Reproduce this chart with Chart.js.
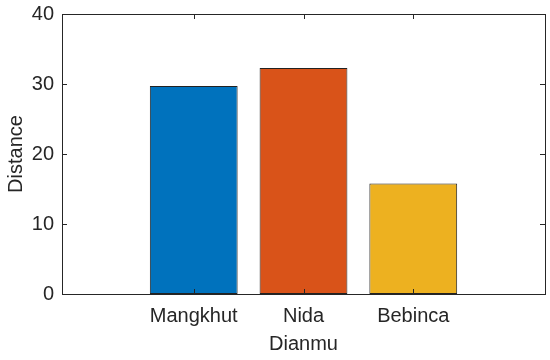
<!DOCTYPE html>
<html>
<head>
<meta charset="utf-8">
<script src="https://cdn.jsdelivr.net/npm/chart.js@4/dist/chart.umd.min.js"></script>
<style>
  html, body { margin: 0; padding: 0; background: #fff; }
  #wrap { width: 550px; height: 360px; }
</style>
</head>
<body>
<div id="wrap"><canvas id="chart" width="550" height="360"></canvas></div>
<script>
// Values
const categories = ['Mangkhut', 'Nida', 'Bebinca'];
const positions = [1, 2, 3];
const distances = [29.7, 32.3, 15.8];
const barColors = ['#0072BD', '#D95319', '#EDB120'];
const yTicks = [0, 10, 20, 30, 40];

const AXIS_COLOR = '#262626';
const FONT = { family: '"Liberation Sans", Arial, Helvetica, sans-serif', size: 20 };

// MATLAB-style box with inward ticks on all four sides
const boxPlugin = {
    id: 'matlabBox',
    afterDraw(chart) {
        const { ctx, chartArea: a, scales } = chart;
        const len = 5;
        ctx.save();
        ctx.strokeStyle = AXIS_COLOR;
        ctx.lineWidth = 1;
        ctx.beginPath();
        yTicks.forEach(v => {
            const y = Math.round(scales.y.getPixelForValue(v)) + 0.5;
            ctx.moveTo(a.left, y); ctx.lineTo(a.left + len, y);
            ctx.moveTo(a.right, y); ctx.lineTo(a.right - len, y);
        });
        positions.forEach(v => {
            const x = Math.round(scales.x.getPixelForValue(v)) + 0.5;
            ctx.moveTo(x, a.top); ctx.lineTo(x, a.top + len);
            ctx.moveTo(x, a.bottom); ctx.lineTo(x, a.bottom - len);
        });
        ctx.stroke();
        ctx.strokeRect(Math.round(a.left) + 0.5, Math.round(a.top) + 0.5,
            Math.round(a.right - a.left), Math.round(a.bottom - a.top));
        ctx.restore();
    }
};

const chart = new Chart(document.getElementById('chart'), {
    type: 'bar',
    data: {
        datasets: [{
            data: positions.map((p, i) => ({ x: p, y: distances[i] })),
            backgroundColor: barColors,
            borderColor: '#222222',
            borderWidth: 1,
            borderSkipped: false,
            barPercentage: 0.8,
            categoryPercentage: 1
        }]
    },
    options: {
        responsive: false,
        animation: false,
        layout: { padding: { top: 14, right: 5, left: 0, bottom: 0 } },
        plugins: { legend: { display: false }, tooltip: { enabled: false } },
        scales: {
            x: {
                type: 'linear',
                offset: false,
                min: -0.2,
                max: 4.2,
                grid: { display: false, drawTicks: false },
                border: { display: false },
                afterBuildTicks: (s) => { s.ticks = positions.map(v => ({ value: v })); },
                afterFit: (s) => { s.height = 66; s.paddingLeft = 0; s.paddingRight = 0; },
                ticks: {
                    color: AXIS_COLOR,
                    font: FONT,
                    padding: 10,
                    maxRotation: 0,
                    autoSkip: false,
                    callback: (v) => categories[positions.indexOf(v)]
                },
                title: { display: true, text: 'Dianmu', color: AXIS_COLOR, font: FONT, padding: { top: 0, bottom: 4 } }
            },
            y: {
                min: 0,
                max: 40,
                grid: { display: false, drawTicks: false },
                border: { display: false },
                afterFit: (s) => { s.width = 62; s.paddingTop = 0; s.paddingBottom = 0; },
                ticks: { stepSize: 10, color: AXIS_COLOR, font: FONT, padding: 8 },
                title: { display: true, text: 'Distance', color: AXIS_COLOR, font: FONT, padding: { top: 4, bottom: 0 } }
            }
        }
    },
    plugins: [boxPlugin]
});
</script>
</body>
</html>
